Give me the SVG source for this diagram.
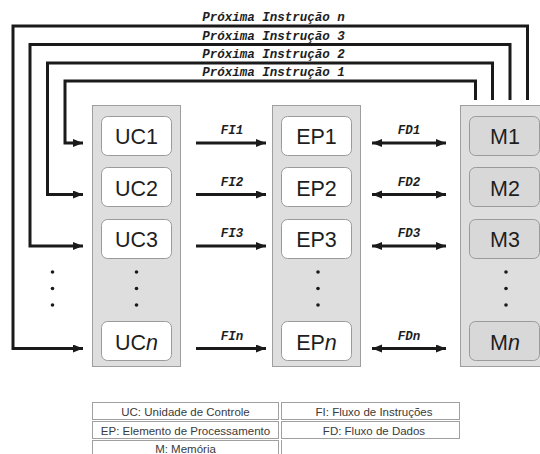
<svg xmlns="http://www.w3.org/2000/svg" width="540" height="454" viewBox="0 0 540 454">
  <defs>
    <style>
      .col { fill: #dedede; stroke: #9e9e9e; stroke-width: 1; }
      .box { fill: #ffffff; stroke: #9a9a9a; stroke-width: 1; }
      .mbox { fill: #d8d8d8; stroke: #9a9a9a; stroke-width: 1; }
      .big { font-family: "Liberation Sans", Arial, sans-serif; font-size: 21.5px; fill: #1e1e1e; text-anchor: middle; }
      .mono { font-family: "Liberation Mono", "Courier New", monospace; font-size: 12.5px; font-weight: bold; font-style: italic; fill: #1e1e1e; text-anchor: middle; }
      .wire { fill: none; stroke: #1a1a1a; stroke-width: 3; stroke-linejoin: miter; }
      .dot { fill: #1a1a1a; }
      .cell { fill: #ffffff; stroke: #a0a0a0; stroke-width: 1; }
      .leg { font-family: "Liberation Sans", Arial, sans-serif; font-size: 11.5px; fill: #3a3a3a; text-anchor: middle; }
    </style>
    <marker id="head" markerUnits="userSpaceOnUse" markerWidth="12" markerHeight="10" refX="10" refY="4" orient="auto-start-reverse">
      <path d="M0,0 L10,4 L0,8 Z" fill="#1a1a1a"/>
    </marker>
  </defs>

  <!-- columns -->
  <g id="col-uc"><rect class="col" x="92.5" y="105.5" width="88" height="261"/></g>
  <g id="col-ep"><rect class="col" x="272.5" y="105.5" width="88" height="261"/></g>
  <g id="col-m"><rect class="col" x="460.5" y="105.5" width="90" height="261"/></g>

  <!-- control units -->
  <g id="uc1"><rect class="box" x="101.5" y="116.5" width="70" height="39" rx="6"/><text class="big" x="136.5" y="144">UC1</text></g>
  <g id="uc2"><rect class="box" x="101.5" y="167.5" width="70" height="39" rx="6"/><text class="big" x="136.5" y="195.5">UC2</text></g>
  <g id="uc3"><rect class="box" x="101.5" y="219.5" width="70" height="39" rx="6"/><text class="big" x="136.5" y="247">UC3</text></g>
  <g id="ucn"><rect class="box" x="101.5" y="321.5" width="70" height="39" rx="6"/><text class="big" x="136.5" y="349.5">UC<tspan font-style="italic">n</tspan></text></g>

  <!-- processing elements -->
  <g id="ep1"><rect class="box" x="281.5" y="116.5" width="70" height="39" rx="6"/><text class="big" x="316.5" y="144">EP1</text></g>
  <g id="ep2"><rect class="box" x="281.5" y="167.5" width="70" height="39" rx="6"/><text class="big" x="316.5" y="195.5">EP2</text></g>
  <g id="ep3"><rect class="box" x="281.5" y="219.5" width="70" height="39" rx="6"/><text class="big" x="316.5" y="247">EP3</text></g>
  <g id="epn"><rect class="box" x="281.5" y="321.5" width="70" height="39" rx="6"/><text class="big" x="316.5" y="349.5">EP<tspan font-style="italic">n</tspan></text></g>

  <!-- memories -->
  <g id="m1"><rect class="mbox" x="469.5" y="116.5" width="70" height="39" rx="6"/><text class="big" x="505" y="144">M1</text></g>
  <g id="m2"><rect class="mbox" x="469.5" y="167.5" width="70" height="39" rx="6"/><text class="big" x="505" y="195.5">M2</text></g>
  <g id="m3"><rect class="mbox" x="469.5" y="219.5" width="70" height="39" rx="6"/><text class="big" x="505" y="247">M3</text></g>
  <g id="mn"><rect class="mbox" x="469.5" y="321.5" width="70" height="39" rx="6"/><text class="big" x="505" y="349.5">M<tspan font-style="italic">n</tspan></text></g>

  <!-- ellipsis dots -->
  <g id="dots">
    <circle class="dot" cx="52.5" cy="272" r="1.8"/><circle class="dot" cx="52.5" cy="288.5" r="1.8"/><circle class="dot" cx="52.5" cy="305" r="1.8"/>
    <circle class="dot" cx="136.5" cy="272" r="1.8"/><circle class="dot" cx="136.5" cy="288.5" r="1.8"/><circle class="dot" cx="136.5" cy="305" r="1.8"/>
    <circle class="dot" cx="318" cy="272" r="1.8"/><circle class="dot" cx="318" cy="288.5" r="1.8"/><circle class="dot" cx="318" cy="305" r="1.8"/>
    <circle class="dot" cx="506" cy="272" r="1.8"/><circle class="dot" cx="506" cy="288.5" r="1.8"/><circle class="dot" cx="506" cy="305" r="1.8"/>
  </g>

  <!-- connectors -->
  <g id="connectors">
    <!-- next-instruction feedback loops -->
    <path class="wire" d="M475.5,100 V81 H65 V143 H83" marker-end="url(#head)"/>
    <path class="wire" d="M492.5,100 V63 H47.5 V194.5 H83" marker-end="url(#head)"/>
    <path class="wire" d="M510,100 V44.5 H30 V246 H83" marker-end="url(#head)"/>
    <path class="wire" d="M527.5,100 V26 H13 V348.5 H83" marker-end="url(#head)"/>
    <!-- instruction flows -->
    <path class="wire" d="M196,143 H266" marker-end="url(#head)"/>
    <path class="wire" d="M196,194.5 H266" marker-end="url(#head)"/>
    <path class="wire" d="M196,246 H266" marker-end="url(#head)"/>
    <path class="wire" d="M196,348.5 H266" marker-end="url(#head)"/>
    <!-- data flows -->
    <path class="wire" d="M372,143 H446" marker-start="url(#head)" marker-end="url(#head)"/>
    <path class="wire" d="M372,194.5 H446" marker-start="url(#head)" marker-end="url(#head)"/>
    <path class="wire" d="M372,246 H446" marker-start="url(#head)" marker-end="url(#head)"/>
    <path class="wire" d="M372,348.5 H446" marker-start="url(#head)" marker-end="url(#head)"/>
  </g>

  <!-- connector labels -->
  <g id="labels">
    <text class="mono" x="273.5" y="21">Próxima Instrução n</text>
    <text class="mono" x="273.5" y="39.5">Próxima Instrução 3</text>
    <text class="mono" x="273.5" y="58">Próxima Instrução 2</text>
    <text class="mono" x="273.5" y="76">Próxima Instrução 1</text>
    <text class="mono" x="232" y="134">FI1</text>
    <text class="mono" x="232" y="185.5">FI2</text>
    <text class="mono" x="232" y="237">FI3</text>
    <text class="mono" x="232" y="339.5">FIn</text>
    <text class="mono" x="409" y="134">FD1</text>
    <text class="mono" x="409" y="185.5">FD2</text>
    <text class="mono" x="409" y="237">FD3</text>
    <text class="mono" x="409" y="339.5">FDn</text>
  </g>

  <!-- legend -->
  <g id="legend">
    <rect class="cell" x="92.5" y="402.5" width="186" height="17"/>
    <rect class="cell" x="281.5" y="402.5" width="178" height="17"/>
    <rect class="cell" x="92.5" y="421.5" width="186" height="17"/>
    <rect class="cell" x="281.5" y="421.5" width="178" height="17"/>
    <rect class="cell" x="92.5" y="440.5" width="186" height="17"/>
    <line x1="281.5" y1="440" x2="281.5" y2="454" stroke="#a0a0a0" stroke-width="1"/>
    <text class="leg" x="185.5" y="415.5">UC: Unidade de Controle</text>
    <text class="leg" x="374" y="415.5">FI: Fluxo de Instruções</text>
    <text class="leg" x="185.5" y="434.5">EP: Elemento de Processamento</text>
    <text class="leg" x="374" y="434.5">FD: Fluxo de Dados</text>
    <text class="leg" x="185.5" y="453">M: Memória</text>
  </g>
</svg>
